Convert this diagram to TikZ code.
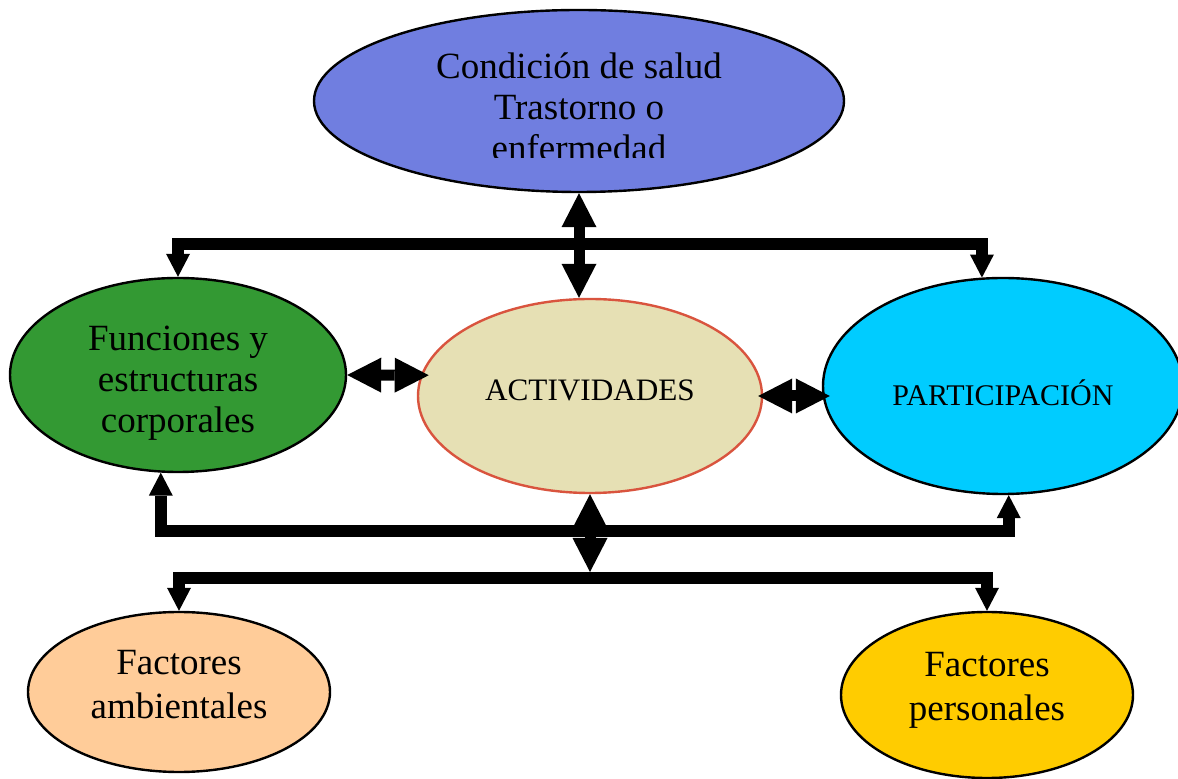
\documentclass[tikz,border=0pt]{standalone}
\usepackage{fontspec}
\setmainfont{Liberation Serif}
\usepackage{tikz}
\usetikzlibrary{arrows.meta, shapes.geometric}

\definecolor{salud}{RGB}{112,126,224}
\definecolor{funcgreen}{RGB}{51,153,51}
\definecolor{actfill}{RGB}{230,224,180}
\definecolor{actline}{RGB}{217,84,62}
\definecolor{partcyan}{RGB}{0,204,255}
\definecolor{ambfill}{RGB}{255,204,153}
\definecolor{persfill}{RGB}{255,204,0}

\begin{document}
\begin{tikzpicture}[x=0.5pt, y=-0.5pt,
  blob/.style={ellipse, draw, line width=1.2pt, inner sep=0pt},
  txt/.style={align=center, font=\fontsize{18.5}{20.5}\selectfont},
  txtwide/.style={align=center, font=\fontsize{18.5}{22}\selectfont},
  caps/.style={font=\fontsize{15}{18}\selectfont},
  bigarrow/.style={line width=5.5pt, {Triangle[width=17.5pt, length=17pt, line width=0pt]}-{Triangle[width=17.5pt, length=17pt, line width=0pt]}},
  elbow/.style={line width=6pt, {Triangle[width=12pt, length=11.5pt, line width=0pt]}-{Triangle[width=12pt, length=11.5pt, line width=0pt]}}]
\useasboundingbox (0,0) rectangle (1178,779);

\node[blob, fill=salud, minimum width=265pt, minimum height=91pt] (cond) at (579,101) {};
\begin{scope}
\clip (300,0) rectangle (860,158);
\node[txt] (condtext) at (579,107) {Condición de salud\\Trastorno o\\enfermedad};
\end{scope}

\node[blob, fill=funcgreen, minimum width=168pt, minimum height=97pt,
  label={[txt, yshift=-4pt]center:Funciones y\\estructuras\\corporales}] (func) at (178,375) {};
\node[blob, draw=actline, fill=actfill, minimum width=172pt, minimum height=97pt,
  label={[caps, font=\fontsize{15.6}{18}\selectfont, yshift=3pt]center:ACTIVIDADES}] (act) at (590,396) {};
\node[blob, fill=partcyan, minimum width=180pt, minimum height=108pt,
  label={[caps, yshift=-3.5pt]center:PARTICIPACIÓN}] (part) at (1003,386) {};
\node[blob, fill=ambfill, minimum width=151pt, minimum height=80pt,
  label={[txtwide, yshift=3.5pt]center:Factores\\ambientales}] (amb) at (179,692) {};
\node[blob, fill=persfill, minimum width=146pt, minimum height=83pt,
  label={[txtwide, yshift=2.5pt]center:Factores\\personales}] (pers) at (987,695) {};

% bars
\coordinate (upbar) at (580,244);
\coordinate (midbar) at (590,531);
\coordinate (lowbar) at (590,578);
\coordinate (split) at (590,572);

\draw[elbow] (func.north) -- (func.north |- upbar) -- (part.101 |- upbar) -- (part.101);
\draw[elbow] (func.260) -- (func.260 |- midbar) -- (part.-87 |- midbar) -- (part.-87);
\draw[elbow] (amb.north) -- (amb.north |- lowbar) -- (pers.north |- lowbar) -- (pers.north);

% double arrows
\draw[bigarrow] (cond.south) -- (cond.south |- act.north);
\draw[bigarrow] (act.south) -- (act.south |- split);
\draw[bigarrow, shorten >=-4pt] (func.east) -- (act.173);
\draw[bigarrow, shorten <=-2.5pt, shorten >=-4pt] (act.east) -- (act.east -| part.west);
\end{tikzpicture}
\end{document}
